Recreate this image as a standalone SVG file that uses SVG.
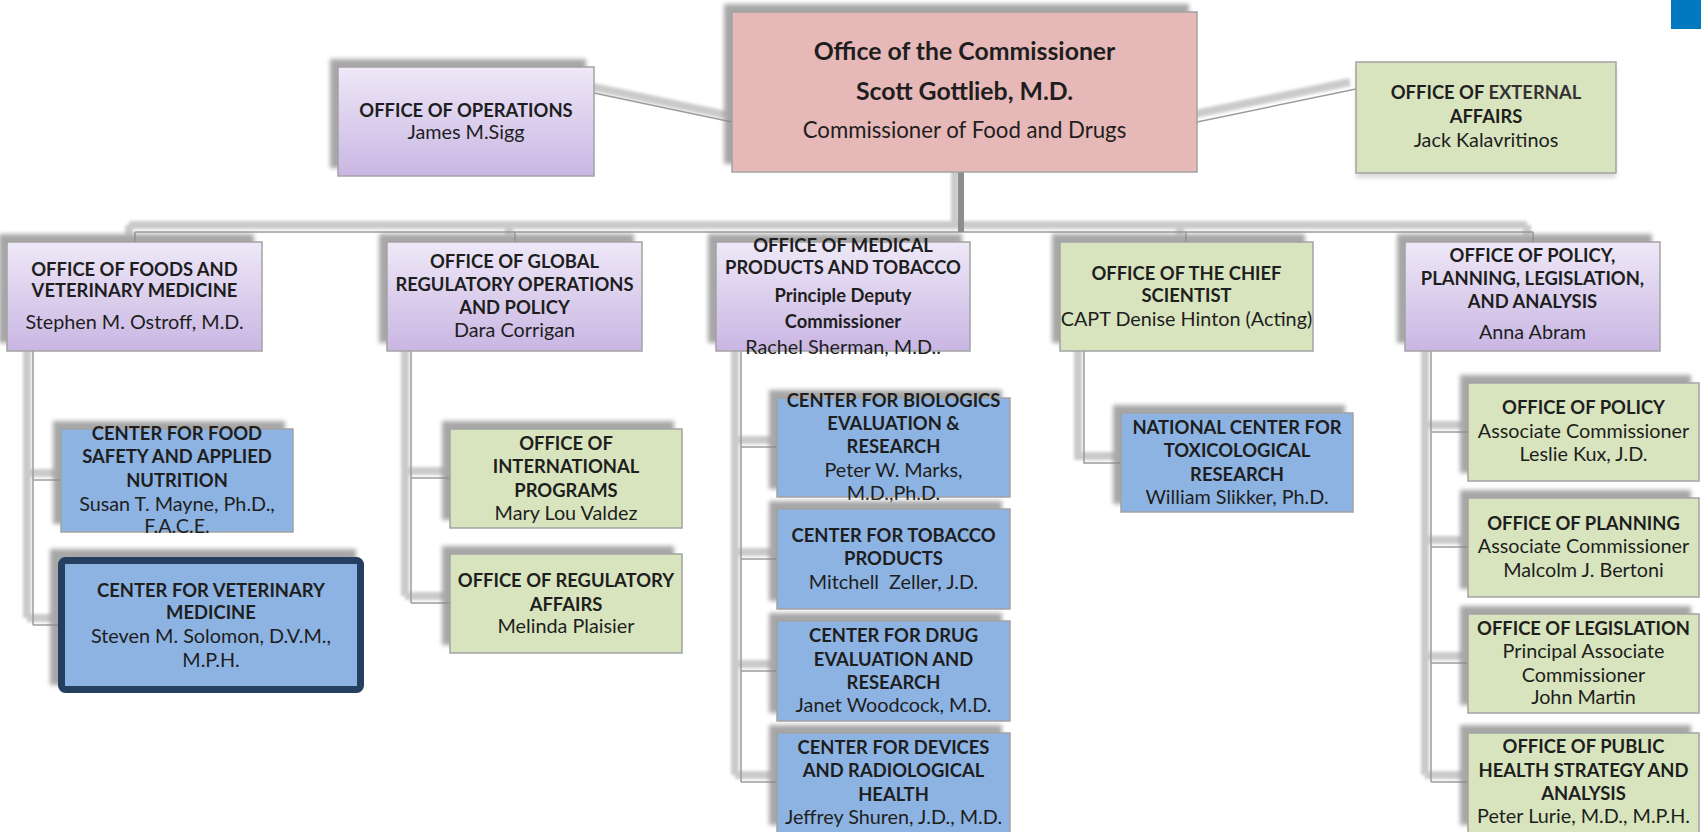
<svg xmlns="http://www.w3.org/2000/svg" width="1701" height="832" viewBox="0 0 1701 832">
<defs>
<linearGradient id="purple" x1="0" y1="0" x2="0" y2="1">
<stop offset="0" stop-color="#EEE8F7"/>
<stop offset="1" stop-color="#C9B6E3"/>
</linearGradient>
<filter id="blur" x="-20%" y="-20%" width="140%" height="140%"><feGaussianBlur stdDeviation="2.2"/></filter>
<filter id="lblur" x="-50%" y="-50%" width="200%" height="200%"><feGaussianBlur stdDeviation="1.8"/></filter>
</defs>
<style>
text{font-family:Lato,"Open Sans","DejaVu Sans",sans-serif;font-size:19.8px;fill:#1e1e1e;text-anchor:middle}
.b{font-weight:bold;font-size:18.4px}
.t1{font-size:24.8px;font-weight:bold}
.t2{font-size:22.2px}
.box{stroke:#A3A3A3;stroke-width:1.5}
.pu{fill:url(#purple)}
.gr{fill:#D8E4BD}
.bl{fill:#8DB3E2}
.pk{fill:#E6B8B7}
.sh{fill:#8a8a8a;opacity:0.75;filter:url(#blur)}
.cl{fill:none;stroke:#9C9C9C;stroke-width:1.5}
.cs{fill:none;stroke:#BDBDBD;stroke-width:8;opacity:0.8;filter:url(#lblur)}
</style>
<rect x="0" y="0" width="1701" height="832" fill="#FFFFFF"/>
<rect x="1671" y="0" width="30" height="29" fill="#0079C1"/>

<g id="connectors">
<g transform="translate(-6,-7)">
<path class="cs" d="M594 93 L732 122 M1197 122 L1356 89 M961 172 V232 M135 232 H1533 M135 232 V242 M515 232 V242 M1186 232 V242 M1533 232 V242 M33 351 V625 M33 480 H61 M33 625 H58 M411 351 V603 M411 478 H450 M411 603 H450 M741 351 V782 M741 447 H777 M741 559 H777 M741 671 H777 M741 782 H777 M1084 351 V463 H1121 M1431 351 V782 M1431 432 H1468 M1431 547 H1468 M1431 663 H1468 M1431 782 H1468"/>
</g>
<path class="cl" d="M594 93 L732 122 M1197 122 L1356 89 M135 232 H1533 M135 232 V242 M515 232 V242 M1186 232 V242 M1533 232 V242 M33 351 V625 M33 480 H61 M33 625 H58 M411 351 V603 M411 478 H450 M411 603 H450 M741 351 V782 M741 447 H777 M741 559 H777 M741 671 H777 M741 782 H777 M1084 351 V463 H1121 M1431 351 V782 M1431 432 H1468 M1431 547 H1468 M1431 663 H1468 M1431 782 H1468"/>
<path d="M961 172 V232" fill="none" stroke="#8C8C8C" stroke-width="6"/>
</g>

<g id="commissioner">
<rect class="sh" x="724" y="4" width="465" height="160"/>
<rect class="box pk" x="732" y="12" width="465" height="160"/>
<text class="t1" x="964.5" y="60">Office of the Commissioner</text>
<text class="t1" x="964.5" y="100">Scott Gottlieb, M.D.</text>
<text class="t2" x="964.5" y="138">Commissioner of Food and Drugs</text>
</g>

<g id="operations">
<rect class="sh" x="330" y="59" width="256" height="109"/>
<rect class="box pu" x="338" y="67" width="256" height="109"/>
<text class="b" x="466" y="117">OFFICE OF OPERATIONS</text>
<text x="466" y="139">James M.Sigg</text>
</g>

<g id="external-affairs">
<rect class="sh" x="1356" y="67" width="260" height="111" style="opacity:0.3"/>
<rect class="box gr" x="1356" y="62" width="260" height="111"/>
<text class="b" x="1486" y="99">OFFICE OF <tspan fill="#333333">EXTERNAL</tspan></text>
<text class="b" x="1486" y="123">AFFAIRS</text>
<text x="1486" y="147">Jack Kalavritinos</text>
</g>

<g id="foods">
<rect class="sh" x="-1" y="234" width="255" height="109"/>
<rect class="box pu" x="7" y="242" width="255" height="109"/>
<text class="b" x="134.5" y="276">OFFICE OF FOODS AND</text>
<text class="b" x="134.5" y="297">VETERINARY MEDICINE</text>
<text x="134.5" y="329">Stephen M. Ostroff, M.D.</text>
</g>

<g id="global">
<rect class="sh" x="379" y="234" width="255" height="109"/>
<rect class="box pu" x="387" y="242" width="255" height="109"/>
<text class="b" x="514.5" y="268">OFFICE OF GLOBAL</text>
<text class="b" x="514.5" y="291">REGULATORY OPERATIONS</text>
<text class="b" x="514.5" y="314">AND POLICY</text>
<text x="514.5" y="337">Dara Corrigan</text>
</g>

<g id="medical">
<rect class="sh" x="708" y="234" width="254" height="109"/>
<rect class="box pu" x="716" y="242" width="254" height="109"/>
<text class="b" x="843" y="252">OFFICE OF MEDICAL</text>
<text class="b" x="843" y="274">PRODUCTS AND TOBACCO</text>
<text class="b" x="843" y="302">Principle Deputy</text>
<text class="b" x="843" y="328">Commissioner</text>
<text x="843" y="354">Rachel Sherman, M.D..</text>
</g>

<g id="chief-scientist">
<rect class="sh" x="1052" y="234" width="253" height="109"/>
<rect class="box gr" x="1060" y="242" width="253" height="109"/>
<text class="b" x="1186.5" y="280">OFFICE OF THE CHIEF</text>
<text class="b" x="1186.5" y="302">SCIENTIST</text>
<text x="1186.5" y="326">CAPT Denise Hinton (Acting)</text>
</g>

<g id="policy-planning">
<rect class="sh" x="1397" y="234" width="255" height="109"/>
<rect class="box pu" x="1405" y="242" width="255" height="109"/>
<text class="b" x="1532.5" y="262">OFFICE OF POLICY,</text>
<text class="b" x="1532.5" y="285">PLANNING, LEGISLATION,</text>
<text class="b" x="1532.5" y="308">AND ANALYSIS</text>
<text x="1532.5" y="339">Anna Abram</text>
</g>

<g id="cfsan">
<rect class="sh" x="53" y="421" width="232" height="103"/>
<rect class="box bl" x="61" y="429" width="232" height="103"/>
<text class="b" x="177" y="440">CENTER FOR FOOD</text>
<text class="b" x="177" y="463">SAFETY AND APPLIED</text>
<text class="b" x="177" y="487">NUTRITION</text>
<text x="177" y="511">Susan T. Mayne, Ph.D.,</text>
<text x="177" y="533">F.A.C.E.</text>
</g>

<g id="cvm">
<rect class="sh" x="50" y="549" width="306" height="136"/>
<rect x="61.5" y="560.5" width="299" height="129" rx="4" fill="#8DB3E2" stroke="#243F60" stroke-width="7"/>
<text class="b" x="211" y="597">CENTER FOR VETERINARY</text>
<text class="b" x="211" y="619">MEDICINE</text>
<text x="211" y="643">Steven M. Solomon, D.V.M.,</text>
<text x="211" y="667">M.P.H.</text>
</g>

<g id="international-programs">
<rect class="sh" x="442" y="421" width="232" height="99"/>
<rect class="box gr" x="450" y="429" width="232" height="99"/>
<text class="b" x="566" y="450">OFFICE OF</text>
<text class="b" x="566" y="473">INTERNATIONAL</text>
<text class="b" x="566" y="497">PROGRAMS</text>
<text x="566" y="520">Mary Lou Valdez</text>
</g>

<g id="regulatory-affairs">
<rect class="sh" x="442" y="546" width="232" height="99"/>
<rect class="box gr" x="450" y="554" width="232" height="99"/>
<text class="b" x="566" y="587">OFFICE OF REGULATORY</text>
<text class="b" x="566" y="611">AFFAIRS</text>
<text x="566" y="633">Melinda Plaisier</text>
</g>

<g id="cber">
<rect class="sh" x="769" y="390" width="233" height="99"/>
<rect class="box bl" x="777" y="398" width="233" height="99"/>
<text class="b" x="893.5" y="407">CENTER FOR BIOLOGICS</text>
<text class="b" x="893.5" y="430">EVALUATION &amp;</text>
<text class="b" x="893.5" y="453">RESEARCH</text>
<text x="893.5" y="477">Peter W. Marks,</text>
<text x="893.5" y="500">M.D.,Ph.D.</text>
</g>

<g id="ctp">
<rect class="sh" x="769" y="501" width="233" height="100"/>
<rect class="box bl" x="777" y="509" width="233" height="100"/>
<text class="b" x="893.5" y="542">CENTER FOR TOBACCO</text>
<text class="b" x="893.5" y="565">PRODUCTS</text>
<text x="893.5" y="589" xml:space="preserve">Mitchell  Zeller, J.D.</text>
</g>

<g id="cder">
<rect class="sh" x="769" y="613" width="233" height="100"/>
<rect class="box bl" x="777" y="621" width="233" height="100"/>
<text class="b" x="893.5" y="642">CENTER FOR DRUG</text>
<text class="b" x="893.5" y="666">EVALUATION AND</text>
<text class="b" x="893.5" y="689">RESEARCH</text>
<text x="893.5" y="712">Janet Woodcock, M.D.</text>
</g>

<g id="cdrh">
<rect class="sh" x="769" y="725" width="233" height="100"/>
<rect class="box bl" x="777" y="733" width="233" height="100"/>
<text class="b" x="893.5" y="754">CENTER FOR DEVICES</text>
<text class="b" x="893.5" y="777">AND RADIOLOGICAL</text>
<text class="b" x="893.5" y="801">HEALTH</text>
<text x="893.5" y="824">Jeffrey Shuren, J.D., M.D.</text>
</g>

<g id="nctr">
<rect class="sh" x="1113" y="405" width="232" height="99"/>
<rect class="box bl" x="1121" y="413" width="232" height="99"/>
<text class="b" x="1237" y="434">NATIONAL CENTER FOR</text>
<text class="b" x="1237" y="457">TOXICOLOGICAL</text>
<text class="b" x="1237" y="481">RESEARCH</text>
<text x="1237" y="504">William Slikker, Ph.D.</text>
</g>

<g id="office-of-policy">
<rect class="sh" x="1460" y="375" width="231" height="98"/>
<rect class="box gr" x="1468" y="383" width="231" height="98"/>
<text class="b" x="1583.5" y="414">OFFICE OF POLICY</text>
<text x="1583.5" y="438">Associate Commissioner</text>
<text x="1583.5" y="461">Leslie Kux, J.D.</text>
</g>

<g id="office-of-planning">
<rect class="sh" x="1460" y="490" width="231" height="99"/>
<rect class="box gr" x="1468" y="498" width="231" height="99"/>
<text class="b" x="1583.5" y="530">OFFICE OF PLANNING</text>
<text x="1583.5" y="553">Associate Commissioner</text>
<text x="1583.5" y="577">Malcolm J. Bertoni</text>
</g>

<g id="office-of-legislation">
<rect class="sh" x="1460" y="606" width="231" height="99"/>
<rect class="box gr" x="1468" y="614" width="231" height="99"/>
<text class="b" x="1583.5" y="635">OFFICE OF LEGISLATION</text>
<text x="1583.5" y="658">Principal Associate</text>
<text x="1583.5" y="682">Commissioner</text>
<text x="1583.5" y="704">John Martin</text>
</g>

<g id="public-health">
<rect class="sh" x="1460" y="725" width="231" height="100"/>
<rect class="box gr" x="1468" y="733" width="231" height="100"/>
<text class="b" x="1583.5" y="753">OFFICE OF PUBLIC</text>
<text class="b" x="1583.5" y="777">HEALTH STRATEGY AND</text>
<text class="b" x="1583.5" y="800">ANALYSIS</text>
<text x="1583.5" y="823">Peter Lurie, M.D., M.P.H.</text>
</g>
</svg>
